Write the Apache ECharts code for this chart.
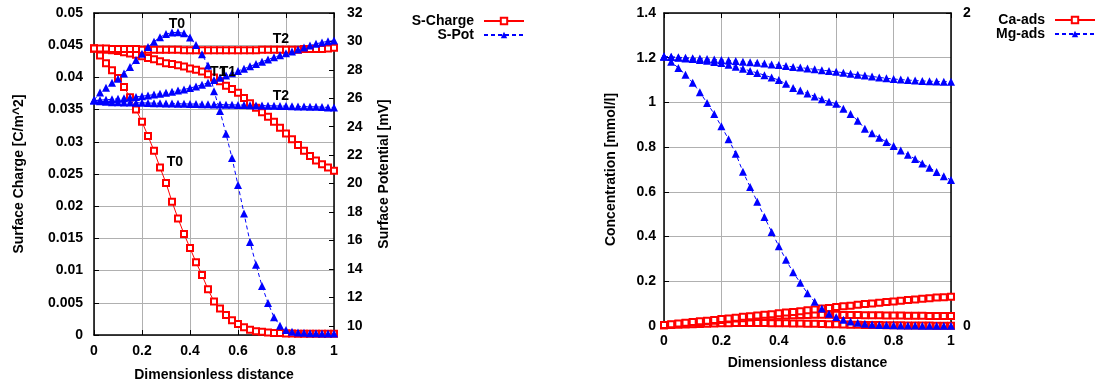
<!DOCTYPE html>
<html>
<head>
<meta charset="utf-8">
<script src="https://cdn.jsdelivr.net/npm/echarts@6/dist/echarts.min.js"></script>
<style>
html,body{margin:0;padding:0;background:#fff;}
#chart{width:1096px;height:387px;}
</style>
</head>
<body>
<div id="chart"></div>
<script>
// ---------- data ----------
var xs = [0,0.025,0.05,0.075,0.1,0.125,0.15,0.175,0.2,0.225,0.25,0.275,0.3,0.325,0.35,0.375,0.4,0.425,0.45,0.475,0.5,0.525,0.55,0.575,0.6,0.625,0.65,0.675,0.7,0.725,0.75,0.775,0.8,0.825,0.85,0.875,0.9,0.925,0.95,0.975,1];

// Left chart: surface charge [C/m^2] (left axis)
var chargeT0 = [0.0445,0.0434,0.0422,0.0411,0.0399,0.0385,0.0369,0.0350,0.0331,0.0309,0.0286,0.0260,0.0236,0.0207,0.0181,0.0157,0.0135,0.0113,0.0093,0.0071,0.0052,0.0041,0.0031,0.0023,0.0017,0.0012,0.0008,0.0006,0.0005,0.0004,0.0003,0.0003,0.00025,0.00025,0.0002,0.0002,0.0002,0.0002,0.0002,0.0002,0.0002];
var chargeT1 = [0.0445,0.0444,0.0443,0.0442,0.0441,0.0439,0.0437,0.0435,0.0433,0.0430,0.0428,0.0425,0.0422,0.0421,0.0419,0.0417,0.0414,0.0412,0.0409,0.0405,0.0400,0.0394,0.0387,0.0382,0.0376,0.0368,0.0360,0.0353,0.0346,0.0339,0.0331,0.0322,0.0313,0.0304,0.0295,0.0286,0.0278,0.0271,0.0265,0.0260,0.0255];
var chargeT2 = [0.0445,0.0445,0.0445,0.0444,0.0444,0.0444,0.0444,0.0444,0.0443,0.0443,0.0443,0.0443,0.0443,0.0443,0.0443,0.0442,0.0442,0.0442,0.0442,0.0442,0.0442,0.0442,0.0442,0.0442,0.0442,0.0442,0.0442,0.0442,0.0443,0.0443,0.0443,0.0443,0.0443,0.0443,0.0443,0.0444,0.0444,0.0444,0.0444,0.0445,0.0446];
// Left chart: surface potential [mV] (right axis)
var potT0 = [25.87,26.4,26.74,27.1,27.38,27.75,28.2,28.7,29.13,29.6,29.98,30.3,30.52,30.62,30.64,30.57,30.28,29.75,29.1,28.3,26.5,25.1,23.5,21.8,19.9,17.9,15.9,14.3,12.8,11.6,10.6,10.0,9.7,9.58,9.52,9.5,9.48,9.47,9.46,9.45,9.45];
var potT1 = [25.85,25.87,25.9,25.93,25.96,26.0,26.05,26.1,26.15,26.2,26.26,26.32,26.39,26.46,26.54,26.62,26.72,26.83,26.96,27.1,27.28,27.44,27.6,27.76,27.92,28.08,28.25,28.41,28.57,28.73,28.88,29.02,29.16,29.3,29.44,29.58,29.71,29.83,29.93,30.01,30.06];
var potT2 = [25.87,25.79,25.75,25.73,25.72,25.71,25.7,25.69,25.68,25.67,25.66,25.65,25.64,25.63,25.62,25.61,25.6,25.6,25.59,25.58,25.57,25.56,25.55,25.54,25.53,25.52,25.51,25.5,25.49,25.48,25.47,25.46,25.45,25.44,25.43,25.42,25.41,25.4,25.38,25.36,25.35];

// Right chart: concentrations [mmol/l]
var caT0 = [0.003,0.005,0.006,0.007,0.008,0.009,0.010,0.011,0.012,0.012,0.013,0.013,0.013,0.013,0.013,0.012,0.012,0.012,0.011,0.011,0.010,0.010,0.009,0.008,0.008,0.007,0.006,0.006,0.005,0.004,0.004,0.003,0.003,0.003,0.002,0.002,0.002,0.002,0.001,0.001,0.001];
var caT1 = [0.003,0.006,0.009,0.012,0.015,0.018,0.021,0.024,0.027,0.030,0.033,0.035,0.038,0.040,0.042,0.044,0.046,0.047,0.048,0.049,0.049,0.050,0.050,0.050,0.050,0.049,0.049,0.049,0.048,0.048,0.048,0.047,0.047,0.047,0.046,0.046,0.046,0.045,0.045,0.045,0.045];
var caT2 = [0.004,0.008,0.011,0.015,0.018,0.021,0.024,0.027,0.031,0.034,0.037,0.041,0.044,0.047,0.050,0.053,0.057,0.060,0.063,0.066,0.070,0.074,0.078,0.081,0.085,0.088,0.091,0.095,0.098,0.101,0.104,0.107,0.110,0.113,0.116,0.119,0.122,0.124,0.127,0.129,0.131];
var mgT0 = [1.205,1.182,1.154,1.124,1.088,1.045,0.998,0.948,0.893,0.835,0.771,0.69,0.622,0.556,0.487,0.421,0.357,0.296,0.24,0.193,0.146,0.108,0.078,0.055,0.04,0.028,0.02,0.014,0.01,0.007,0.005,0.004,0.003,0.002,0.002,0.002,0.001,0.001,0.001,0.001,0.001];
var mgT1 = [1.205,1.203,1.2,1.197,1.194,1.19,1.186,1.181,1.176,1.168,1.16,1.151,1.141,1.132,1.122,1.111,1.1,1.083,1.065,1.053,1.04,1.027,1.014,1.003,0.994,0.972,0.948,0.918,0.882,0.862,0.842,0.823,0.805,0.785,0.766,0.747,0.727,0.708,0.689,0.67,0.653];
var mgT2 = [1.205,1.204,1.202,1.2,1.198,1.196,1.194,1.192,1.19,1.188,1.185,1.182,1.18,1.177,1.174,1.17,1.167,1.163,1.159,1.156,1.152,1.148,1.144,1.141,1.137,1.133,1.128,1.124,1.12,1.116,1.112,1.108,1.105,1.102,1.1,1.098,1.096,1.095,1.094,1.093,1.093];

// Tick labels
var potTicks = [10,12,14,16,18,20,22,24,26,28,30,32];

// Annotations (left chart, in left-axis data coordinates)
var annoText = ['T0','T2','T1','T1','T2','T0'];
var annoX    = [0.345,0.779,0.517,0.558,0.779,0.337];
var annoY    = [0.0482,0.0460,0.0408,0.0408,0.0371,0.0269];

// ---------- chart ----------
var FONT = 'Liberation Sans, Arial, Helvetica, sans-serif';
var RED = '#ff0000', BLUE = '#0000ff', GRID = '#b0b0b0';
function pairs(ys){ return xs.map(function(x,i){ return [x, ys[i]]; }); }

function xAx(grid, pos, show){
  return {
    type:'value', gridIndex:grid, position:pos, min:0, max:1, interval:0.2,
    axisLine:{show:true, onZero:false, lineStyle:{color:'#000', width:1.5}},
    axisTick:{show:true, inside:true, length:5, lineStyle:{color:'#000'}},
    axisLabel:{show:show, color:'#000', fontFamily:FONT, fontWeight:'bold', fontSize:14, margin:(grid===0?9:8),
      formatter:function(v){ return String(+v.toFixed(1)); }},
    splitLine:{show:show, lineStyle:{color:GRID, width:1}},
    name: show ? 'Dimensionless distance' : '', nameLocation:'middle', nameGap:(grid===0?33:30),
    nameTextStyle:{color:'#000', fontFamily:FONT, fontWeight:'bold', fontSize:14}
  };
}
var labelStyle = {color:'#000', fontFamily:FONT, fontWeight:'bold', fontSize:14};
var nameStyle = {color:'#000', fontFamily:FONT, fontWeight:'bold', fontSize:14};

function redSeries(data, xi, yi, extra){
  var s = {type:'line', name:(xi===0?'S-Charge':'Ca-ads'), xAxisIndex:xi, yAxisIndex:yi, data:pairs(data),
    symbol:'emptyRect', symbolSize:6, showSymbol:true, animation:false,
    lineStyle:{color:RED, width:1}, itemStyle:{color:RED, borderColor:RED, borderWidth:1.2}};
  if (extra) for (var k in extra) s[k] = extra[k];
  return s;
}
function blueSeries(data, xi, yi){
  return {type:'line', name:(xi===0?'S-Pot':'Mg-ads'), xAxisIndex:xi, yAxisIndex:yi, data:pairs(data),
    symbol:'triangle', symbolSize:8, showSymbol:true, animation:false,
    lineStyle:{color:BLUE, width:1, type:[4,3]}, itemStyle:{color:BLUE}};
}

var marks = annoText.map(function(t,i){
  return {name:t, coord:[annoX[i], annoY[i]], value:t};
});

function legend(name, right, top){
  return {data:[name], right:right, top:top, orient:'vertical', align:'right', itemWidth:40, itemHeight:8,
    itemGap:0, padding:0, selectedMode:false,
    textStyle:{color:'#000', fontFamily:FONT, fontWeight:'bold', fontSize:14, padding:[0,5,0,0]}};
}

var option = {
  backgroundColor:'#fff',
  animation:false,
  grid:[
    {left:94, top:13, width:240, height:326},
    {left:664, top:13, width:287, height:313}
  ],
  legend:[
    legend('S-Charge', 571, 14),
    legend('S-Pot', 571, 28),
    legend('Ca-ads', 0, 13),
    legend('Mg-ads', 0, 27)
  ],
  xAxis:[ xAx(0,'bottom',true), xAx(0,'top',false), xAx(1,'bottom',true), xAx(1,'top',false) ],
  yAxis:[
    {type:'value', gridIndex:0, position:'left', min:0, max:0.05, interval:0.005,
      axisLine:{show:true, onZero:false, lineStyle:{color:'#000', width:1.5}},
      axisTick:{show:true, inside:true, length:5, lineStyle:{color:'#000'}},
      axisLabel:Object.assign({margin:11, formatter:function(v){ return String(+v.toFixed(3)); }}, labelStyle),
      splitLine:{show:true, lineStyle:{color:GRID, width:1}},
      name:'Surface Charge [C/m^2]', nameLocation:'middle', nameGap:68, nameTextStyle:nameStyle},
    {type:'value', gridIndex:0, position:'right', min:9.35, max:32,
      axisLine:{show:true, onZero:false, lineStyle:{color:'#000', width:1.5}},
      axisTick:{show:true, inside:true, length:5, customValues:potTicks, lineStyle:{color:'#000'}},
      axisLabel:Object.assign({margin:13, customValues:potTicks}, labelStyle),
      splitLine:{show:false},
      name:'Surface Potential [mV]', nameLocation:'middle', nameGap:43, nameTextStyle:nameStyle},
    {type:'value', gridIndex:1, position:'left', min:0, max:1.4, interval:0.2,
      axisLine:{show:true, onZero:false, lineStyle:{color:'#000', width:1.5}},
      axisTick:{show:true, inside:true, length:5, lineStyle:{color:'#000'}},
      axisLabel:Object.assign({margin:8, formatter:function(v){ return String(+v.toFixed(1)); }}, labelStyle),
      splitLine:{show:true, lineStyle:{color:GRID, width:1}},
      name:'Concentration [mmol/l]', nameLocation:'middle', nameGap:46, nameTextStyle:nameStyle},
    {type:'value', gridIndex:1, position:'right', min:0, max:2, interval:2,
      axisLine:{show:true, onZero:false, lineStyle:{color:'#000', width:1.5}},
      axisTick:{show:true, inside:true, length:5, lineStyle:{color:'#000'}},
      axisLabel:Object.assign({margin:12}, labelStyle),
      splitLine:{show:false}}
  ],
  series:[
    redSeries(chargeT0,0,0,{markPoint:{symbol:'circle', symbolSize:1, itemStyle:{color:'rgba(0,0,0,0)'},
      label:{show:true, position:'inside', formatter:'{b}', color:'#000', fontFamily:FONT, fontWeight:'bold', fontSize:14},
      data:marks, animation:false}}),
    redSeries(chargeT1,0,0),
    redSeries(chargeT2,0,0),
    blueSeries(potT0,0,1),
    blueSeries(potT1,0,1),
    blueSeries(potT2,0,1),
    redSeries(caT0,2,2),
    redSeries(caT1,2,2),
    redSeries(caT2,2,2),
    blueSeries(mgT0,2,2),
    blueSeries(mgT1,2,2),
    blueSeries(mgT2,2,2)
  ]
};
var chart = echarts.init(document.getElementById('chart'), null, {renderer:'canvas'});
chart.setOption(option);
</script>
</body>
</html>
